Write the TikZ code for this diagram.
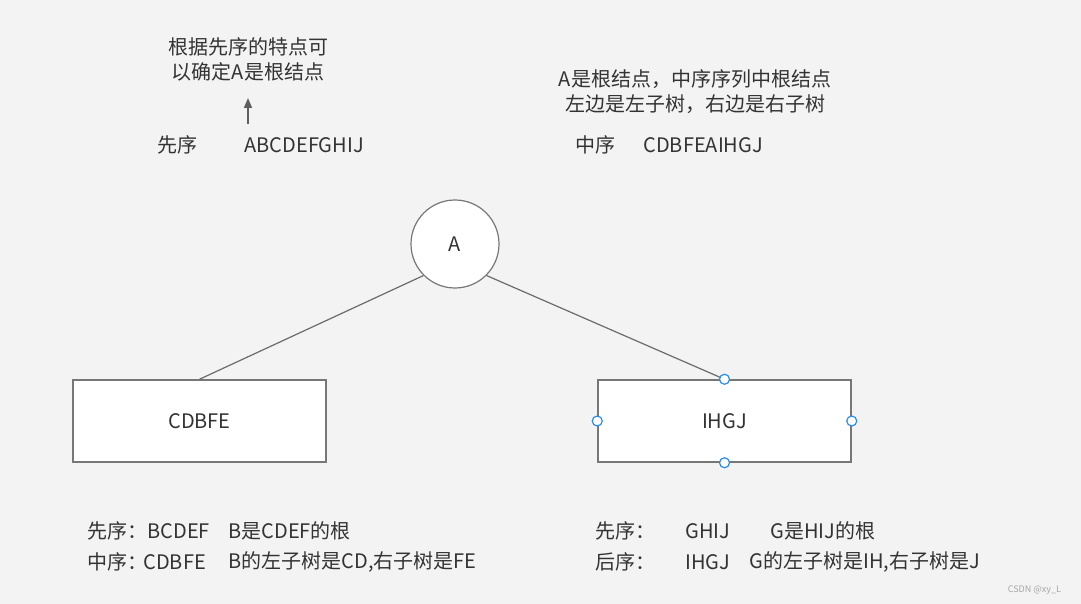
\documentclass[tikz,border=0pt]{standalone}
\usepackage{fontspec}
\setmainfont{Noto Sans CJK SC}
\usetikzlibrary{arrows.meta}
\definecolor{fondo}{HTML}{F3F3F3}
\definecolor{texto}{HTML}{333333}
\definecolor{borde}{HTML}{777777}
\definecolor{asa}{HTML}{2A8CF0}
\begin{document}
\begin{tikzpicture}[x=0.5pt, y=-0.5pt,
    caja/.style={draw=borde, fill=white, line width=0.75pt, minimum width=126.5pt, minimum height=41pt, inner sep=0pt},
    raiz/.style={circle, draw=borde, fill=white, line width=0.6pt, minimum size=44pt, inner sep=0pt},
    arista/.style={draw=borde!90!black, line width=0.6pt},
    asa/.style={circle, draw=asa, fill=white, line width=0.6pt, minimum size=5pt, inner sep=0pt},
    izqt/.style={anchor=west, inner sep=0pt},
    every node/.style={font=\fontsize{10pt}{12pt}\selectfont, text=texto}]
  % Fondo
  \fill[fondo] (0,0) rectangle (1081,604);
  \useasboundingbox (0,0) rectangle (1081,604);
  % Notas de arriba
  \node (nota1) at (248,47) {根据先序的特点可};
  \node (nota2) at (248,72) {以确定A是根结点};
  \node (nota3) at (695,79) {A是根结点，中序序列中根结点};
  \node (nota4) at (695,104) {左边是左子树，右边是右子树};
  \coordinate (flechaini) at (248,124);
  \coordinate (flechafin) at (248,98);
  \draw[borde!80!black, line width=0.75pt, -{Triangle[length=5pt, width=4pt]}] (flechaini) -- (flechafin);
  % Secuencias
  \node (pre) at (177,145) {先序};
  \node[izqt] (preseq) at (244,145) {ABCDEFGHIJ};
  \node (ino) at (595,145) {中序};
  \node[izqt] (inoseq) at (643,145) {CDBFEAIHGJ};
  % Arbol
  \node[raiz] (A) at (455,244) {A};
  \node[caja] (izq) at (199.5,421) {CDBFE};
  \node[caja] (der) at (724.5,421) {IHGJ};
  \draw[arista] (A.south west) -- (izq.north);
  \draw[arista] (A.south east) -- (der.north);
  % Asas de seleccion
  \foreach \ancla in {north, south, east, west} {
    \node[asa] at (der.\ancla) {};
  }
  % Explicaciones de abajo
  \node[izqt] (l1a) at (87,531) {先序：};
  \node[izqt] (l1b) at (147,531) {BCDEF};
  \node[izqt] (l1c) at (228,531) {B是CDEF的根};
  \node[izqt] (l2a) at (87,562) {中序：};
  \node[izqt] (l2b) at (143,562) {CDBFE};
  \node[izqt] (l2c) at (228,562) {B的左子树是CD,右子树是FE};
  \node[izqt] (r1a) at (595,531) {先序：};
  \node[izqt] (r1b) at (685,531) {GHIJ};
  \node[izqt] (r1c) at (770,531) {G是HIJ的根};
  \node[izqt] (r2a) at (595,562) {后序：};
  \node[izqt] (r2b) at (685,562) {IHGJ};
  \node[izqt] (r2c) at (749,562) {G的左子树是IH,右子树是J};
  % Marca
  \node[anchor=east, font=\fontsize{4.5pt}{5pt}\selectfont, text=gray!70] (marca) at (1068,590) {CSDN @xy\_L};
\end{tikzpicture}
\end{document}
